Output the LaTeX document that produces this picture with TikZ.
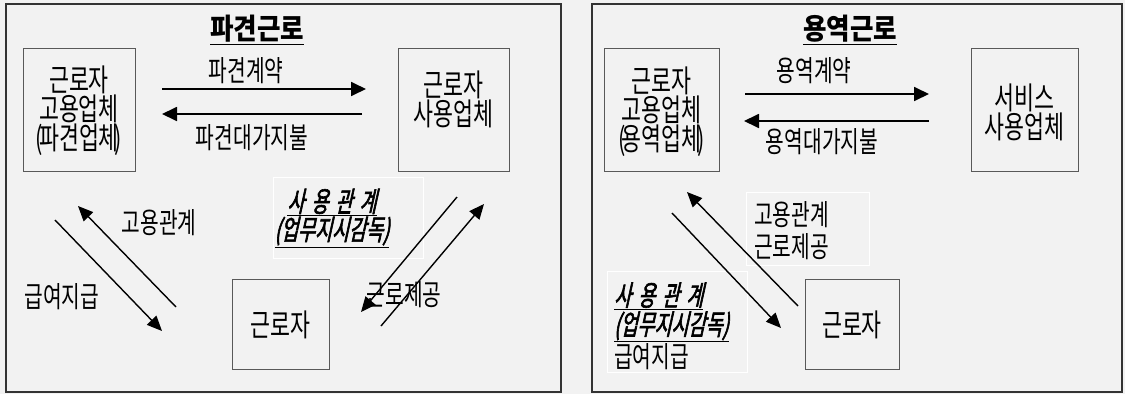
\documentclass[tikz,border=0pt]{standalone}
\usepackage{fontspec}
\setmainfont[FakeStretch=0.7]{Noto Sans CJK KR}
\newfontfamily\kttl[FakeStretch=0.88]{Noto Sans CJK KR}
\newfontfamily\krit[FakeSlant=0.22,FakeBold=2.2,FakeStretch=0.66]{Noto Sans CJK KR}
\usetikzlibrary{arrows.meta}
\definecolor{bg}{HTML}{F2F2F2}
\definecolor{panelline}{HTML}{333333}
\definecolor{boxline}{HTML}{595959}
\newcommand{\sayong}{\underline{사\hspace{7pt}용\hspace{7pt}관\hspace{7pt}계}}
\newcommand{\tp}[1]{(\kern-4pt#1\kern-4pt)}
\begin{document}
\begin{tikzpicture}[x=1pt,y=-1pt,
  panel/.style={draw=panelline,line width=1.6pt},
  box/.style={draw=boxline,line width=0.9pt,fill=bg,inner sep=0pt},
  lbox/.style={draw=white,line width=1pt,inner sep=0pt},
  txt/.style={font=\fontsize{31}{27}\selectfont,align=center,inner sep=0pt},
  lab/.style={font=\fontsize{29}{32}\selectfont,align=center,inner sep=0pt},
  ltxt/.style={font=\fontsize{29}{32}\selectfont,align=left,inner sep=0pt},
  itx/.style={font=\fontsize{28}{30}\krit,align=center,inner sep=0pt},
  ttl/.style={font=\fontsize{29}{30}\kttl\bfseries,inner sep=0pt},
  arr/.style={line width=1.8pt,-{Triangle[length=15pt,width=14pt]}},
  darr/.style={line width=1.4pt,-{Triangle[length=15pt,width=13pt]}}]
\fill[bg] (0,0) rectangle (1125,394);
\useasboundingbox (0,0) rectangle (1125,394);
% ---------- left panel ----------
\draw[panel] (6,4) rectangle (561,392);
\node[ttl] (t1) at (257,30) {\underline{파견근로}};
\node[box,minimum width=112pt,minimum height=123pt] (a) at (79,109.5) {};
\node[txt] (at) at (79,111) {근로자\\고용업체\\\tp{파견업체}};
\node[box,minimum width=111pt,minimum height=123pt] (b) at (453.5,109.5) {};
\node[txt] (bt) at (453.5,99) {근로자\\사용업체};
\node[box,minimum width=97pt,minimum height=90pt] (c) at (280.5,324) {};
\node[txt] (ct) at (280.5,325) {근로자};
\coordinate (p1s) at (162,89); \coordinate (p1e) at (366,89);
\coordinate (p2s) at (362,114); \coordinate (p2e) at (162,114);
\draw[arr] (p1s) -- (p1e);
\draw[arr] (p2s) -- (p2e);
\node[lab] (l1) at (246,71) {파견계약};
\node[lab] (l2) at (252,138) {파견대가지불};
\node[lbox,minimum width=150pt,minimum height=81pt] (u1) at (348,217.5) {};
\node[itx] (u1t) at (332,218) {\sayong\\[-2pt]\underline{(업무지시감독)}};
\coordinate (d1s) at (55,220); \coordinate (d1e) at (162,331);
\coordinate (d2s) at (176,307); \coordinate (d2e) at (78,206);
\draw[darr] (d1s) -- (d1e);
\draw[darr] (d2s) -- (d2e);
\node[lab] (l3) at (159,223) {고용관계};
\node[lab] (l4) at (62,297) {급여지급};
\coordinate (d3s) at (457,197); \coordinate (d3e) at (361,312);
\coordinate (d4s) at (381,326); \coordinate (d4e) at (484,204);
\draw[darr] (d3s) -- (d3e);
\draw[darr] (d4s) -- (d4e);
\node[lab] (l5) at (404,295) {근로제공};
% ---------- right panel ----------
\draw[panel] (592,4) rectangle (1122,392);
\node[ttl] (t2) at (850,30) {\underline{용역근로}};
\node[box,minimum width=115pt,minimum height=123pt] (a2) at (661.5,109.5) {};
\node[txt] (a2t) at (661.5,112) {근로자\\고용업체\\\tp{용역업체}};
\node[box,minimum width=107pt,minimum height=123pt] (b2) at (1024.5,109.5) {};
\node[txt] (b2t) at (1024.5,112) {서비스\\사용업체};
\node[box,minimum width=94pt,minimum height=90pt] (c2) at (852,324) {};
\node[txt] (c2t) at (852,325) {근로자};
\coordinate (q1s) at (745,94); \coordinate (q1e) at (929,94);
\coordinate (q2s) at (929,121); \coordinate (q2e) at (744,121);
\draw[arr] (q1s) -- (q1e);
\draw[arr] (q2s) -- (q2e);
\node[lab] (m1) at (814,71) {용역계약};
\node[lab] (m2) at (822,142) {용역대가지불};
\node[lbox,minimum width=123pt,minimum height=73pt] (u2) at (807.5,228.5) {};
\node[ltxt,anchor=west] (u2t) at (754,231) {고용관계\\근로제공};
\node[lbox,minimum width=140pt,minimum height=101pt] (u3) at (677,321.5) {};
\node[ltxt,anchor=west,font=\fontsize{29}{29}\selectfont] (u3t) at (614,326) {{\krit\fontsize{28}{29}\selectfont\sayong}\\{\krit\fontsize{28}{29}\selectfont\underline{(업무지시감독)}}\\급여지급};
\coordinate (e1s) at (672,213); \coordinate (e1e) at (781,328);
\coordinate (e2s) at (798,306); \coordinate (e2e) at (687,192);
\draw[darr] (e1s) -- (e1e);
\draw[darr] (e2s) -- (e2e);
\end{tikzpicture}
\end{document}
